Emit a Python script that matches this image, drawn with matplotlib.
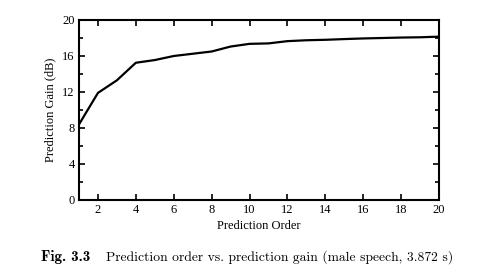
import numpy as np
import matplotlib
matplotlib.use('Agg')
import matplotlib.pyplot as plt

# prediction order vs. prediction gain
order = np.arange(1, 21)
gain_db = [8.4, 11.9, 13.3, 15.25, 15.55, 16.0, 16.25, 16.5, 17.05, 17.35,
           17.4, 17.65, 17.75, 17.8, 17.88, 17.95, 18.0, 18.05, 18.08, 18.15]

xticks = list(range(2, 21, 2))
yticks = list(range(0, 21, 4))

fig = plt.figure(figsize=(4.92, 2.78), dpi=100)
ax = fig.add_axes([79 / 492, 1 - 200 / 278, 360 / 492, 180 / 278])

ax.plot(order, gain_db, 'k-', lw=1.6)
ax.set_xlim(1, 20)
ax.set_ylim(0, 20)
ax.set_xticks(xticks)
ax.set_yticks(yticks)
ax.set_yticks(range(0, 21, 2), minor=True)
ax.tick_params(which='both', direction='in', top=True, right=True,
               length=4, width=1.2, labelsize=9, pad=3)
ax.tick_params(which='minor', length=3)
for lab in ax.get_xticklabels() + ax.get_yticklabels():
    lab.set_family('Liberation Serif')
for s in ax.spines.values():
    s.set_linewidth(1.5)

ax.set_xlabel('Prediction Order', family='Liberation Serif', fontsize=9,
              labelpad=2.5)
ax.set_ylabel('Prediction Gain (dB)', family='Liberation Serif', fontsize=9,
              labelpad=4)

fig.text(41 / 492, 1 - 257 / 278, 'Fig. 3.3', family='cmb10', fontsize=10.8,
         va='center')
fig.text(106 / 492, 1 - 257 / 278,
         'Prediction order vs. prediction gain (male speech, 3.872 s)',
         family='cmr10', fontsize=9.8, va='center')

fig.savefig('out.png', dpi=100)
